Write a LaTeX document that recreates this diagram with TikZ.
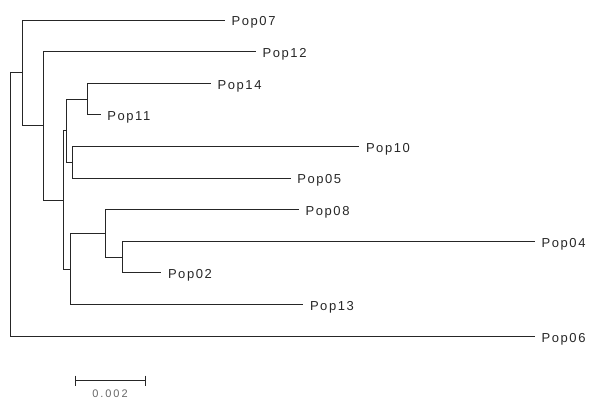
\documentclass[tikz,border=0pt]{standalone}
\usepackage{fontspec}
\setmainfont{Liberation Sans}[LetterSpace=12]
\newfontfamily\scalefont{Liberation Sans}[LetterSpace=18]
\begin{document}
\begin{tikzpicture}[x=1pt,y=-1pt,
  branch/.style={draw=black!85,line width=0.9pt},
  tiplabel/.style={anchor=base west,inner sep=0pt,font=\fontsize{13}{15}\selectfont,text=black!85},
  scalelabel/.style={anchor=base,inner sep=0pt,font=\scalefont\fontsize{11}{13}\selectfont,text=black!60}]
\useasboundingbox (0,0) rectangle (590,401);
% internal nodes
\coordinate (R) at (10,72);
\coordinate (A) at (22.7,72);
\coordinate (B) at (43.3,125);
\coordinate (C) at (63.3,200);
\coordinate (D) at (66.7,130);
\coordinate (F) at (87.3,99);
\coordinate (G) at (72,162);
\coordinate (E) at (70,269);
\coordinate (H) at (105.3,233);
\coordinate (I) at (122.3,257);
% tips
\coordinate (t07) at (225,20);
\coordinate (t12) at (256,51.6);
\coordinate (t14) at (211,83.2);
\coordinate (t11) at (100.7,114.8);
\coordinate (t10) at (359.3,146.4);
\coordinate (t05) at (290.7,178);
\coordinate (t08) at (299,209.6);
\coordinate (t04) at (535,241.2);
\coordinate (t02) at (161.3,272.8);
\coordinate (t13) at (303.3,304.4);
\coordinate (t06) at (535,336);
% branches
\draw[branch] (R) |- (A);
\draw[branch] (R) |- (t06);
\draw[branch] (A) |- (t07);
\draw[branch] (A) |- (B);
\draw[branch] (B) |- (t12);
\draw[branch] (B) |- (C);
\draw[branch] (C) |- (D);
\draw[branch] (C) |- (E);
\draw[branch] (D) |- (F);
\draw[branch] (D) |- (G);
\draw[branch] (F) |- (t14);
\draw[branch] (F) |- (t11);
\draw[branch] (G) |- (t10);
\draw[branch] (G) |- (t05);
\draw[branch] (E) |- (H);
\draw[branch] (E) |- (t13);
\draw[branch] (H) |- (t08);
\draw[branch] (H) |- (I);
\draw[branch] (I) |- (t04);
\draw[branch] (I) |- (t02);
% labels
\foreach \t/\s in {t07/Pop07,t12/Pop12,t14/Pop14,t11/Pop11,t10/Pop10,t05/Pop05,t08/Pop08,t04/Pop04,t02/Pop02,t13/Pop13,t06/Pop06}
  \node[tiplabel] (l\t) at ([xshift=6.5pt,yshift=-6pt]\t) {\s};
% scale bar
\coordinate (s1) at (75,380.7);
\coordinate (s2) at (145.7,380.7);
\draw[branch] (s1) -- (s2);
\draw[branch] ([yshift=5pt]s1) -- ([yshift=-5pt]s1);
\draw[branch] ([yshift=5pt]s2) -- ([yshift=-5pt]s2);
\node[scalelabel] (sl) at (110,397) {0.002};
\end{tikzpicture}
\end{document}
